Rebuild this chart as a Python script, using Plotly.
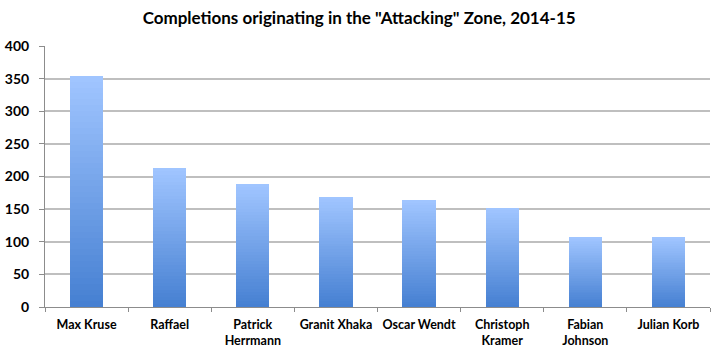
import plotly.graph_objects as go

players = ["Max Kruse", "Raffael", "Patrick<br>Herrmann", "Granit Xhaka", "Oscar Wendt",
           "Christoph<br>Kramer", "Fabian<br>Johnson", "Julian Korb"]
completions = [354, 213, 188, 169, 164, 152, 108, 108]
y_ticks = [0, 50, 100, 150, 200, 250, 300, 350, 400]

N = 40
bottom = (70, 128, 210)
top = (160, 197, 255)

fig = go.Figure()
for i in range(N):
    t = i / (N - 1)
    c = tuple(round(bottom[k] + (top[k] - bottom[k]) * t) for k in range(3))
    fig.add_trace(go.Bar(
        x=players, y=[v / N for v in completions],
        marker=dict(color="rgb(%d,%d,%d)" % c, line=dict(width=0)),
        showlegend=False, hoverinfo="skip",
    ))

fig.update_layout(
    barmode="stack", bargap=0.6,
    width=714, height=354,
    margin=dict(l=45, r=4, t=46, b=47, autoexpand=False),
    paper_bgcolor="white", plot_bgcolor="white",
    title=dict(text='Completions originating in the "Attacking" Zone, 2014-15',
               x=0.503, xanchor="center", y=0.949, yanchor="middle",
               font=dict(family="Lato", size=17, color="black", weight="bold")),
    font=dict(family="Lato", size=13, color="black"),
)
fig.update_xaxes(
    showline=True, linecolor="#8C8C8C", linewidth=1,
    ticks="outside", tickson="boundaries", ticklen=4, tickcolor="#8C8C8C",
    ticklabelstandoff=6, tickangle=0, automargin=False,
    tickfont=dict(family="Lato", size=12.5, color="black", weight="bold"),
)
fig.update_yaxes(
    range=[0, 400], tickvals=y_ticks,
    showgrid=True, gridcolor="#BFBFBF", gridwidth=1.5,
    showline=True, linecolor="#8C8C8C", linewidth=1,
    ticks="outside", ticklen=5, tickcolor="#8C8C8C",
    ticklabelstandoff=7, automargin=False,
    tickfont=dict(family="Lato", size=14, color="black", weight="bold"),
    zeroline=False,
)
fig.write_html("out.html")
